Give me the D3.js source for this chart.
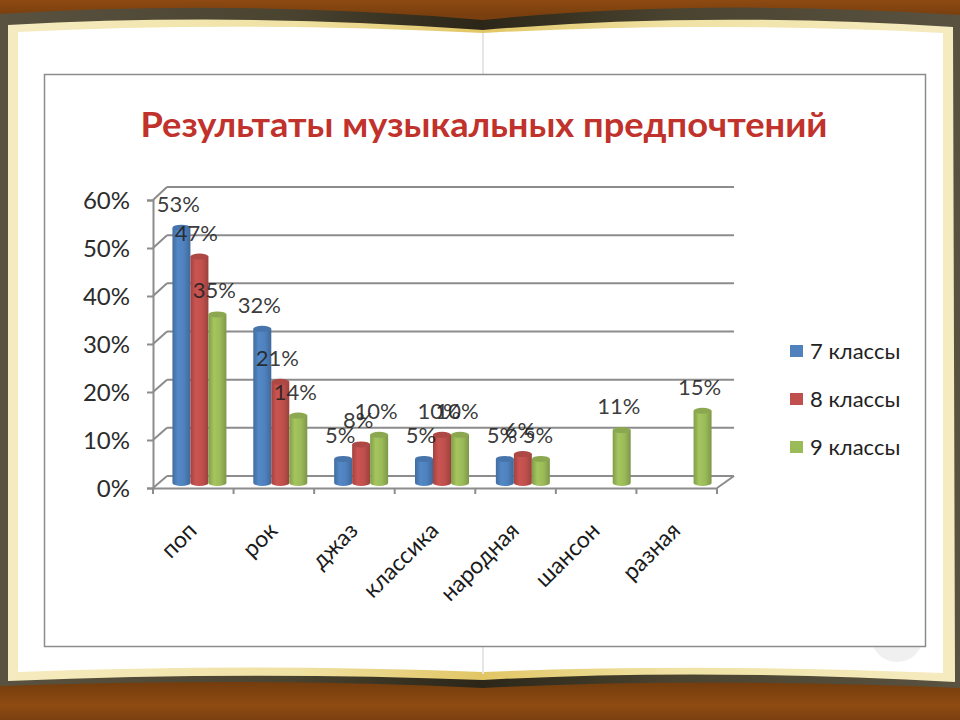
<!DOCTYPE html>
<html>
<head>
<meta charset="utf-8">
<script src="https://cdn.jsdelivr.net/npm/d3@7"></script>
<style>
  html, body { margin: 0; padding: 0; background: #fff; }
  svg { display: block; }
  text { font-family: Lato, "Open Sans", "Noto Sans", sans-serif; }
</style>
</head>
<body>
<svg id="chart" width="960" height="720"></svg>
<script>
const categories = ['поп', 'рок', 'джаз', 'классика', 'народная', 'шансон', 'разная'];
const seventh = [53, 32, 5, 5, 5, null, null];
const eighth = [47, 21, 8, 10, 6, null, null];
const ninth = [35, 14, 10, 10, 5, 11, 15];
const seriesNames = ['7 классы', '8 классы', '9 классы'];
const seriesColors = ['#4f81bd', '#c0504d', '#9bbb59'];
const yTicks = [0, 10, 20, 30, 40, 50, 60];
const title = 'Результаты музыкальных предпочтений';

const seriesValues = [seventh, eighth, ninth];
const svg = d3.select('#chart');
const defs = svg.append('defs');

function addGradient(id, vertical, stops) {
  const g = defs.append('linearGradient').attr('id', id)
    .attr('x1', 0).attr('y1', 0).attr('x2', vertical ? 0 : 1).attr('y2', vertical ? 1 : 0);
  stops.forEach(s => g.append('stop').attr('offset', s[0]).attr('stop-color', s[1]));
}

// wood + book page behind the chart
addGradient('wood', true, [[0, '#8e4a12'], [0.02, '#7a3f0e'], [0.94, '#6d390c'], [0.98, '#8f4b12'], [1, '#7a3f10']]);
addGradient('edge', false, [[0, '#5a5240'], [0.3, '#4a4330'], [0.5, '#2b2618'], [0.7, '#4a4330'], [1, '#5a5240']]);
addGradient('cream', false, [[0, '#f5ebc0'], [0.3, '#f0e2a4'], [0.5, '#e2c665'], [0.7, '#f0e2a4'], [1, '#f5ebc0']]);

svg.append('rect').attr('width', 960).attr('height', 720).attr('fill', 'url(#wood)');
svg.append('path')
  .attr('d', 'M0,14 Q240,-1 483,20 Q700,-2 960,15 L960,688 Q700,677 483,688 Q250,677 0,686 Z')
  .attr('fill', 'url(#edge)');
svg.append('path')
  .attr('d', 'M8,25 Q240,12 483,30 Q700,11 953,27 L955,682 Q700,668 483,680 Q250,671 8,681 Z')
  .attr('fill', 'url(#cream)');
svg.append('path')
  .attr('d', 'M18,32 Q240,21 483,33 Q700,21 943,33 L943,673 Q700,663 483,672 Q250,663 18,672 Z')
  .attr('fill', '#ffffff');
svg.append('line').attr('x1', 483).attr('x2', 483).attr('y1', 33).attr('y2', 674)
  .attr('stroke', '#e6e6e6').attr('stroke-width', 2);
svg.append('circle').attr('cx', 897).attr('cy', 636).attr('r', 26).attr('fill', '#f0f0f0');
svg.append('rect').attr('x', 44.5).attr('y', 74.5).attr('width', 881).attr('height', 572)
  .attr('fill', '#fff').attr('stroke', '#8c8c8c').attr('stroke-width', 1.5);

svg.append('text').attr('x', 484).attr('y', 137).attr('text-anchor', 'middle')
  .attr('font-size', 34).attr('font-weight', 700).attr('fill', '#c0322b')
  .attr('textLength', 687).attr('lengthAdjust', 'spacingAndGlyphs')
  .text(title);

// scales: front axis plane, back wall plane, and the plane the bars stand on
const yFront = d3.scaleLinear().domain([0, 60]).range([488, 200]);
const yBack = d3.scaleLinear().domain([0, 60]).range([476, 187]);
const yBar = d3.scaleLinear().domain([0, 60]).range([483, 194]);
const xAxisScale = d3.scaleBand().domain(categories).range([153, 717]);
const xGroup = d3.scaleBand().domain(categories).range([159, 725]);
const xBar = d3.scaleBand().domain(d3.range(3)).range([-27, 27]);
const gridLeft = 167, gridRight = 734;
const gridColor = '#8c8c8c';

const chart = svg.append('g');

// back wall grid and left wall diagonals
chart.append('g').selectAll('line').data(yTicks).join('line')
  .attr('x1', gridLeft).attr('x2', gridRight)
  .attr('y1', d => yBack(d)).attr('y2', d => yBack(d))
  .attr('stroke', gridColor).attr('stroke-width', 2);
chart.append('g').selectAll('line').data(yTicks).join('line')
  .attr('x1', 153).attr('x2', gridLeft)
  .attr('y1', d => yFront(d)).attr('y2', d => yBack(d))
  .attr('stroke', gridColor).attr('stroke-width', 2);
chart.append('line').attr('x1', 717).attr('x2', gridRight)
  .attr('y1', yFront(0)).attr('y2', yBack(0))
  .attr('stroke', gridColor).attr('stroke-width', 2);

// axes
const yAxis = chart.append('g').attr('transform', 'translate(153,0)')
  .call(d3.axisLeft(yFront).tickValues(yTicks).tickSize(6).tickPadding(17).tickFormat(d => d + '%'));
yAxis.selectAll('text').attr('font-size', 24).attr('fill', '#2b2b2b').attr('dy', '0.36em');

const xAxis = chart.append('g').attr('transform', `translate(0,${yFront(0)})`)
  .call(d3.axisBottom(xAxisScale).tickSize(0).tickPadding(0));
xAxis.selectAll('.tick line').remove();
xAxis.selectAll('text')
  .attr('font-size', 23).attr('fill', '#1a1a1a')
  .attr('text-anchor', 'end')
  .attr('y', 0).attr('dy', 0)
  .attr('transform', 'translate(5,44) rotate(-45)');
chart.append('g').selectAll('line').data(d3.range(8)).join('line')
  .attr('x1', d => 153 + d * xAxisScale.step()).attr('x2', d => 153 + d * xAxisScale.step())
  .attr('y1', yFront(0)).attr('y2', yFront(0) + 6)
  .attr('stroke', gridColor).attr('stroke-width', 2);
chart.selectAll('.domain').attr('stroke', gridColor).attr('stroke-width', 2);
chart.selectAll('.tick line').attr('stroke', gridColor).attr('stroke-width', 2);

// cylinder shading
seriesColors.forEach((c, i) => {
  addGradient('cyl' + i, false, [
    [0, d3.color(c).darker(0.5)],
    [0.3, d3.color(c).brighter(0.15)],
    [0.65, c],
    [1, d3.color(c).darker(0.6)]
  ]);
});

const barWidth = xBar.bandwidth();
const ry = 3;
const barData = [];
seriesValues.forEach((vals, s) => vals.forEach((v, i) => {
  if (v !== null) barData.push({ s, v, cat: categories[i] });
}));
const barX = d => xGroup(d.cat) + xGroup.bandwidth() / 2 + xBar(d.s);

const bars = chart.append('g').selectAll('g').data(barData).join('g');
bars.append('path')
  .attr('d', d => {
    const x = barX(d), top = yBar(d.v), bot = yBar(0), r = barWidth / 2;
    return `M${x},${top}L${x},${bot}A${r},${ry} 0 0 0 ${x + barWidth},${bot}L${x + barWidth},${top}Z`;
  })
  .attr('fill', d => `url(#cyl${d.s})`);
bars.append('ellipse')
  .attr('cx', d => barX(d) + barWidth / 2).attr('cy', d => yBar(d.v))
  .attr('rx', barWidth / 2).attr('ry', ry)
  .attr('fill', d => d3.color(seriesColors[d.s]).darker(0.3));

// data labels sit on top of everything, overlaps included
chart.append('g').selectAll('text').data(barData).join('text')
  .attr('x', d => barX(d) + barWidth / 2 - 3)
  .attr('y', d => yBar(d.v) - 16)
  .attr('text-anchor', 'middle')
  .attr('font-size', 22).attr('fill', '#222')
  .attr('fill-opacity', 0.9)
  .text(d => d.v + '%');

// legend
const legendY = d3.scalePoint().domain(seriesNames).range([351, 447]);
const legend = chart.append('g').selectAll('g').data(seriesNames).join('g')
  .attr('transform', d => `translate(790,${legendY(d)})`);
legend.append('rect').attr('x', 0).attr('y', -6).attr('width', 13).attr('height', 12)
  .attr('fill', (d, i) => seriesColors[i]);
legend.append('text').attr('x', 20).attr('y', 7.5)
  .attr('font-size', 22).attr('fill', '#222')
  .text(d => d);
</script>
</body>
</html>
